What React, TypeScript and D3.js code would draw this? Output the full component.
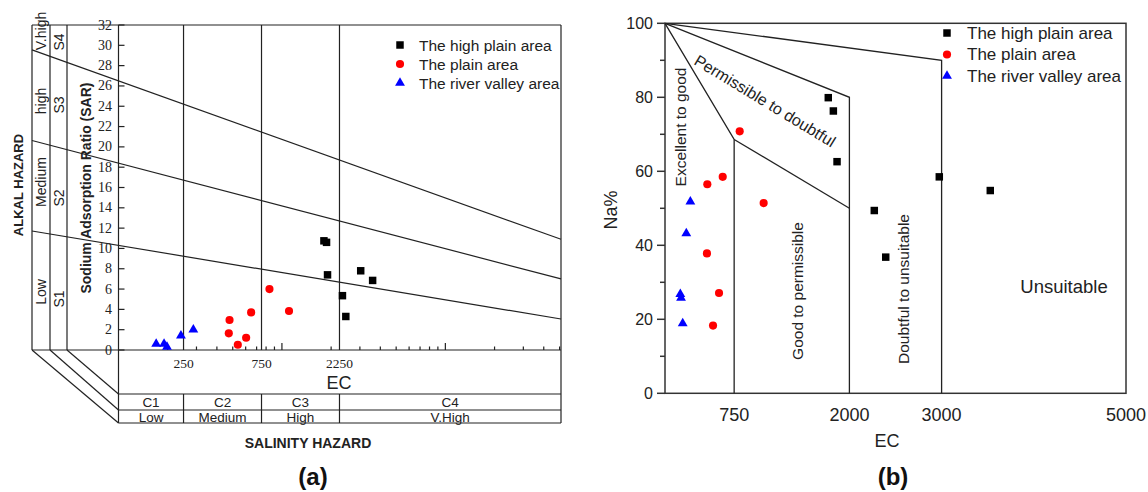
import React from 'react';
import * as d3 from 'd3';

const W = 1148;
const H = 492;
const SANS = '"Liberation Sans", Arial, sans-serif';
const SERIF = '"Liberation Serif", "Times New Roman", serif';
const INK = '#222';

// ---------- (a) USSL salinity / alkali hazard diagram ----------
const salinityBounds = [250, 750, 2250];
const salinityClasses = ['C1', 'C2', 'C3', 'C4'];
const salinityLevels = ['Low', 'Medium', 'High', 'V.High'];
const sarTicks = [0, 2, 4, 6, 8, 10, 12, 14, 16, 18, 20, 22, 24, 26, 28, 30, 32];
// SAR of each alkali boundary at the low and high end of the EC axis
const alkaliStartSAR = [10.3, 18.4, 26.5];
const alkaliEndSAR = [3.05, 7.0, 10.9];
const alkaliLevels = ['Low', 'Medium', 'high', 'V.high'];
const alkaliClasses = ['S1', 'S2', 'S3', 'S4'];

const highPlainEC_a = [1807, 1875, 1901, 2346, 2460, 3034, 3589];
const highPlainSAR = [10.75, 10.6, 7.4, 5.35, 3.3, 7.8, 6.85];
const plainEC_a = [478, 473, 537, 604, 648, 839, 1105];
const plainSAR = [2.95, 1.64, 0.52, 1.21, 3.7, 6.0, 3.84];
const riverEC_a = [170, 190, 198, 241, 287];
const riverSAR = [0.6, 0.6, 0.3, 1.4, 2.0];

// ---------- (b) Wilcox diagram ----------
const wilcoxTicksX = [750, 2000, 3000, 5000];
const naMajorTicks = [0, 20, 40, 60, 80, 100];
const naMinorTicks = [10, 30, 50, 70, 90];
const excellentBound: [number, number][] = [[0, 100], [750, 68.6], [750, 0]];
const goodBound: [number, number][] = [[750, 68.6], [2000, 50]];
const permissibleBound: [number, number][] = [[0, 100], [2000, 80], [2000, 0]];
const doubtfulBound: [number, number][] = [[0, 100], [3000, 90], [3000, 0]];

const highPlainEC_b = [1771, 1826, 1866, 2270, 2394, 2975, 3528];
const highPlainNa = [79.9, 76.3, 62.6, 49.4, 36.8, 58.5, 54.8];
const plainEC_b = [810, 459, 626, 1070, 455, 586, 521];
const plainNa = [70.8, 56.5, 58.5, 51.4, 37.8, 27.1, 18.3];
const riverEC_b = [275, 231, 166, 174, 192];
const riverNa = [51.8, 43.2, 26.8, 25.8, 18.9];

const seriesNames = ['The high plain area', 'The plain area', 'The river valley area'];
const seriesColors = ['#000000', '#ff0000', '#0000ff'];

const squarePath = d3.symbol(d3.symbolSquare, 56)()!;
const circlePath = d3.symbol(d3.symbolCircle, 52)()!;
const trianglePath = d3.symbol(d3.symbolTriangle, 42)()!;
const shapes = [squarePath, circlePath, trianglePath];

function Marker({ x, y, k }: { x: number; y: number; k: number }) {
  return <path d={shapes[k]} transform={`translate(${x},${y})`} fill={seriesColors[k]} />;
}

function PanelA() {
  const left = 118.5, right = 561, top = 25, bottom = 350;
  const boxX = [32, 50, 67];
  const rowY = [394, 410, 423];
  const x = d3.scaleLog().domain([100, 51000]).range([left, right]);
  const y = d3.scaleLinear().domain([0, 32]).range([bottom, top]);

  const alkaliLine = (i: number) => {
    const y0 = y(alkaliStartSAR[i]);
    const y1 = y(alkaliEndSAR[i]);
    const slope = (y1 - y0) / (right - left);
    const yStart = y0 + (boxX[0] - left) * slope;
    return <line key={i} x1={boxX[0]} y1={yStart} x2={right} y2={y1} stroke={INK} strokeWidth={1.2} />;
  };

  const bandEdges = [left, ...salinityBounds.map((v) => x(v)), right];
  const logTicks = x.ticks().filter((v) => v > 100);

  const series = [
    { ec: highPlainEC_a, v: highPlainSAR },
    { ec: plainEC_a, v: plainSAR },
    { ec: riverEC_a, v: riverSAR },
  ];

  const alkaliLabelY = [292, 182, 101, 31];
  const alkaliClassY = [299, 198, 105, 42];

  return (
    <g>
      {/* outer frame and hazard boxes */}
      <line x1={boxX[0]} y1={top} x2={right} y2={top} stroke={INK} strokeWidth={1.2} />
      <line x1={boxX[0]} y1={bottom} x2={right} y2={bottom} stroke={INK} strokeWidth={1.2} />
      {boxX.map((bx) => (
        <line key={bx} x1={bx} y1={top} x2={bx} y2={bottom} stroke={INK} strokeWidth={1.2} />
      ))}
      <line x1={left} y1={top} x2={left} y2={rowY[2]} stroke={INK} strokeWidth={1.2} />
      <line x1={right} y1={top} x2={right} y2={rowY[2]} stroke={INK} strokeWidth={1.2} />
      {rowY.map((ry) => (
        <line key={ry} x1={left} y1={ry} x2={right} y2={ry} stroke={INK} strokeWidth={1.2} />
      ))}
      {boxX.map((bx, i) => (
        <line key={'d' + bx} x1={bx} y1={bottom} x2={left} y2={rowY[2 - i]} stroke={INK} strokeWidth={1.2} />
      ))}

      {/* salinity class boundaries */}
      {salinityBounds.map((v) => (
        <g key={v}>
          <line x1={x(v)} y1={top} x2={x(v)} y2={bottom} stroke={INK} strokeWidth={1.2} />
          <line x1={x(v)} y1={rowY[0]} x2={x(v)} y2={rowY[2]} stroke={INK} strokeWidth={1.2} />
        </g>
      ))}
      {alkaliStartSAR.map((_, i) => alkaliLine(i))}

      {/* SAR axis */}
      {sarTicks.map((t) => (
        <g key={t}>
          <line x1={left} y1={y(t)} x2={left + 6} y2={y(t)} stroke={INK} strokeWidth={1.2} />
          <text x={112} y={y(t)} textAnchor="end" dominantBaseline="central" fontFamily={SERIF} fontSize={14} fill="#222">
            {t}
          </text>
        </g>
      ))}
      {/* EC log ticks */}
      {logTicks.map((t) => {
        const major = Math.abs(Math.log10(t) % 1) < 1e-9;
        return <line key={t} x1={x(t)} y1={bottom} x2={x(t)} y2={bottom - (major ? 7 : 3.5)} stroke={INK} strokeWidth={1.2} />;
      })}
      {salinityBounds.map((v) => (
        <text key={'l' + v} x={x(v)} y={368} textAnchor="middle" fontFamily={SERIF} fontSize={13.5} fill="#222">
          {v}
        </text>
      ))}
      <text x={339} y={389} textAnchor="middle" fontFamily={SANS} fontSize={18} fill="#222">EC</text>

      {/* salinity hazard table */}
      {salinityClasses.map((c, i) => {
        const cx = (bandEdges[i] + bandEdges[i + 1]) / 2;
        return (
          <g key={c}>
            <text x={cx} y={407} textAnchor="middle" fontFamily={SANS} fontSize={13.5} fill="#222">{c}</text>
            <text x={cx} y={421.5} textAnchor="middle" fontFamily={SANS} fontSize={13.5} fill="#222">{salinityLevels[i]}</text>
          </g>
        );
      })}

      {/* alkali hazard columns */}
      {alkaliLevels.map((s, i) => (
        <text key={s} transform={`translate(41,${alkaliLabelY[i]}) rotate(-90)`} textAnchor="middle" dominantBaseline="central" fontFamily={SANS} fontSize={14} fill="#222">
          {s}
        </text>
      ))}
      {alkaliClasses.map((s, i) => (
        <text key={s} transform={`translate(58.5,${alkaliClassY[i]}) rotate(-90)`} textAnchor="middle" dominantBaseline="central" fontFamily={SANS} fontSize={14} fill="#222">
          {s}
        </text>
      ))}
      <text transform="translate(18,185) rotate(-90)" textAnchor="middle" dominantBaseline="central" fontFamily={SANS} fontWeight="bold" fontSize={13} fill="#222">
        ALKAL HAZARD
      </text>
      <text transform="translate(86,188) rotate(-90)" textAnchor="middle" dominantBaseline="central" fontFamily={SANS} fontWeight="bold" fontSize={14} fill="#222">
        Sodium Adsorption Ratio (SAR)
      </text>
      <text x={308} y={448} textAnchor="middle" fontFamily={SANS} fontWeight="bold" fontSize={14} fill="#222">
        SALINITY HAZARD
      </text>
      <text x={313} y={485} textAnchor="middle" fontFamily={SANS} fontWeight="bold" fontSize={24} fill="#111">
        (a)
      </text>

      {/* samples */}
      {series.map((s, k) =>
        s.ec.map((ec, i) => <Marker key={k + '-' + i} x={x(ec)} y={y(s.v[i])} k={k} />)
      )}

      {/* legend */}
      {seriesNames.map((n, k) => (
        <g key={n}>
          <Marker x={400} y={45 + k * 19} k={k} />
          <text x={419} y={45 + k * 19} dominantBaseline="central" fontFamily={SANS} fontSize={15.5} fill="#222">{n}</text>
        </g>
      ))}
    </g>
  );
}

function PanelB() {
  const left = 665, right = 1126, top = 23.3, bottom = 393.3;
  const x = d3.scaleLinear().domain([0, 5000]).range([left, right]);
  const y = d3.scaleLinear().domain([0, 100]).range([bottom, top]);
  const line = d3.line<[number, number]>().x((d) => x(d[0])).y((d) => y(d[1]));

  const series = [
    { ec: highPlainEC_b, v: highPlainNa },
    { ec: plainEC_b, v: plainNa },
    { ec: riverEC_b, v: riverNa },
  ];

  return (
    <g>
      <rect x={left} y={top} width={right - left} height={bottom - top} fill="none" stroke="#333" strokeWidth={1.5} />
      {[excellentBound, goodBound, permissibleBound, doubtfulBound].map((b, i) => (
        <path key={i} d={line(b)!} fill="none" stroke="#222" strokeWidth={1.3} />
      ))}

      {naMajorTicks.map((t) => (
        <g key={t}>
          <line x1={left - 8} y1={y(t)} x2={left} y2={y(t)} stroke="#333" strokeWidth={1.5} />
          <text x={653} y={y(t)} textAnchor="end" dominantBaseline="central" fontFamily={SANS} fontSize={16} fill="#222">{t}</text>
        </g>
      ))}
      {naMinorTicks.map((t) => (
        <line key={t} x1={left - 5} y1={y(t)} x2={left} y2={y(t)} stroke="#333" strokeWidth={1.5} />
      ))}
      {wilcoxTicksX.map((t) => (
        <text key={t} x={x(t)} y={421} textAnchor="middle" fontFamily={SANS} fontSize={18} fill="#222">{t}</text>
      ))}
      <text x={887} y={447} textAnchor="middle" fontFamily={SANS} fontSize={18} fill="#222">EC</text>
      <text transform="translate(611,210) rotate(-90)" textAnchor="middle" dominantBaseline="central" fontFamily={SANS} fontSize={18} fill="#222">Na%</text>

      {/* class names */}
      <text transform="translate(680,127) rotate(-90)" textAnchor="middle" dominantBaseline="central" fontFamily={SANS} fontSize={15.5} fill="#222">Excellent to good</text>
      <text transform="translate(765,101) rotate(31.3)" textAnchor="middle" dominantBaseline="central" fontFamily={SANS} fontSize={16} fill="#222">Permissible to doubtful</text>
      <text transform="translate(797,291) rotate(-90)" textAnchor="middle" dominantBaseline="central" fontFamily={SANS} fontSize={15.5} fill="#222">Good to permissible</text>
      <text transform="translate(903,289) rotate(-90)" textAnchor="middle" dominantBaseline="central" fontFamily={SANS} fontSize={15.5} fill="#222">Doubtful to unsuitable</text>
      <text x={1064} y={286} textAnchor="middle" dominantBaseline="central" fontFamily={SANS} fontSize={18.5} fill="#222">Unsuitable</text>

      {series.map((s, k) =>
        s.ec.map((ec, i) => <Marker key={k + '-' + i} x={x(ec)} y={y(s.v[i])} k={k} />)
      )}

      {seriesNames.map((n, k) => (
        <g key={n}>
          <Marker x={947} y={33 + k * 21.5} k={k} />
          <text x={967} y={33 + k * 21.5} dominantBaseline="central" fontFamily={SANS} fontSize={17} fill="#222">{n}</text>
        </g>
      ))}
      <text x={893} y={485} textAnchor="middle" fontFamily={SANS} fontWeight="bold" fontSize={24} fill="#111">(b)</text>
    </g>
  );
}

export default function App() {
  return (
    <svg width={W} height={H} viewBox={`0 0 ${W} ${H}`} style={{ position: 'absolute', left: 0, top: 0, background: '#fff' }}>
      <rect width={W} height={H} fill="#fff" />
      <PanelA />
      <PanelB />
    </svg>
  );
}
